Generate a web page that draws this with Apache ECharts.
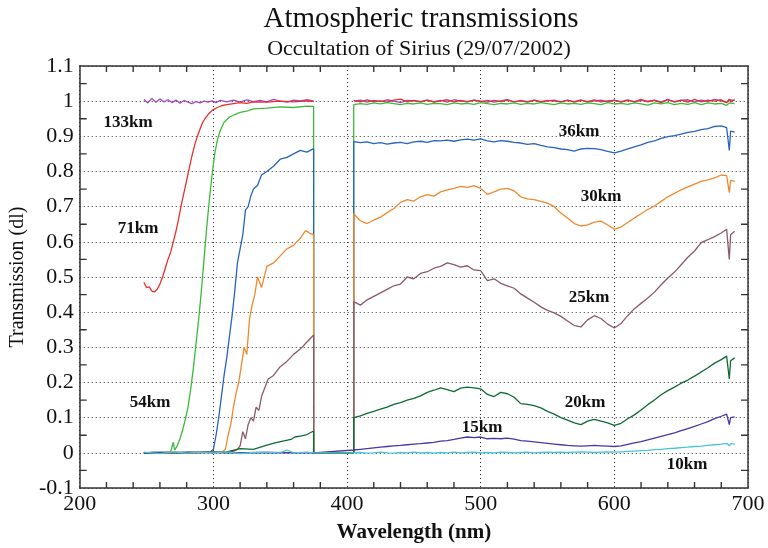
<!DOCTYPE html>
<html><head><meta charset="utf-8">
<script src="https://cdn.jsdelivr.net/npm/echarts@6/dist/echarts.min.js"></script>
<style>html,body{margin:0;padding:0;background:#fff}#c{width:768px;height:548px}</style>
</head><body><div id="c"></div>
<script>
// ---- data (wavelength nm, transmission) ----
const WL_R = [405,410,415,420,425,430,435,440,445,450,455,460,465,470,475,480,485,490,495,500,
  505,510,515,520,525,530,535,540,545,550,555,560,565,570,575,580,585,590,595,600,
  605,610,615,620,625,630,635,640,645,650,655,660,665,670,675,680,684,686,687,690];

const wl133L = [248,251,254,257,260,263,266,269,272,275,278,281,284,287,290,293,296,299,302,305,310,315,320,325,330,335,340,345,350,355,360,365,370,375];
const tr133L = [1.005,0.995,1.008,0.997,1.006,0.998,1.004,0.996,1.003,0.994,1.002,0.997,0.993,0.999,0.995,1.0,0.997,1.001,0.996,1.002,0.998,1.003,0.997,1.004,0.999,1.002,0.998,1.005,1.0,0.997,1.003,1.001,1.004,1.0];
const tr133R = [1.0,1.003,0.997,1.002,0.999,1.004,1.0,0.996,1.002,1.001,0.998,1.003,0.999,1.002,0.997,1.004,1.0,0.998,1.003,0.999,
  1.002,0.997,1.001,1.004,0.998,1.002,0.999,1.003,0.997,1.001,1.003,0.998,1.002,0.999,1.004,0.997,1.001,1.003,0.998,1.002,
  0.999,1.004,0.997,1.002,1.0,1.003,0.998,1.005,0.997,1.002,1.004,0.998,1.003,0.999,1.005,1.001,0.996,1.004,0.999,1.002];

const wl71L = [248,250,252,254,256,258,260,262,264,266,268,270,272,274,276,278,280,282,284,286,288,290,292,294,296,298,300,303,306,310,315,320,325,330,340,350,360,370,375];
const tr71L = [0.485,0.47,0.472,0.46,0.458,0.465,0.48,0.5,0.525,0.55,0.57,0.6,0.63,0.665,0.705,0.74,0.775,0.81,0.845,0.875,0.9,0.92,0.94,0.952,0.962,0.97,0.976,0.982,0.987,0.99,0.993,0.996,0.994,0.998,0.997,1.0,0.998,1.001,0.999];
const tr71R = [1.002,0.998,1.004,0.999,1.001,0.997,1.003,1.006,0.998,1.002,0.999,1.003,0.997,1.001,1.004,0.998,1.002,0.999,1.003,1.0,
  0.997,1.002,0.999,1.004,0.998,1.001,0.997,1.003,0.999,1.002,1.0,0.998,1.003,0.997,1.002,0.999,1.004,0.998,1.001,1.003,
  0.997,1.002,0.999,1.005,0.998,1.002,0.996,1.004,0.999,1.003,0.997,1.005,0.998,1.003,1.0,1.004,0.996,1.006,0.998,1.004];

const wl54L = [248,255,262,268,270,271,273,275,277,279,281,283,285,287,289,291,293,295,297,299,301,303,305,308,312,316,320,325,330,340,350,360,370,375];
const tr54L = [0.0,0.002,0.0,0.003,0.03,0.008,0.02,0.04,0.065,0.095,0.13,0.18,0.24,0.31,0.38,0.46,0.55,0.64,0.72,0.79,0.85,0.89,0.915,0.94,0.955,0.962,0.968,0.972,0.978,0.98,0.984,0.982,0.986,0.985];
const tr54R = [0.99,0.993,0.991,0.995,0.992,0.996,0.993,0.99,0.994,0.992,0.995,0.991,0.994,0.993,0.99,0.995,0.992,0.994,0.991,0.996,
  0.993,0.99,0.994,0.992,0.995,0.991,0.994,0.992,0.996,0.993,0.99,0.995,0.992,0.994,0.991,0.995,0.993,0.99,0.996,0.992,
  0.994,0.991,0.995,0.992,0.989,0.995,0.992,0.996,0.99,0.994,0.991,0.996,0.99,0.995,0.992,0.994,0.988,0.995,0.99,0.993];

const wl36L = [248,260,275,290,298,300,302,304,306,308,310,312,314,316,318,320,322,324,326,328,330,333,336,340,345,350,355,360,365,370,375];
const tr36L = [0.0,0.002,0.0,0.001,0.003,0.01,0.05,0.1,0.16,0.22,0.27,0.33,0.39,0.46,0.54,0.58,0.62,0.69,0.7,0.73,0.75,0.76,0.79,0.8,0.815,0.835,0.84,0.85,0.86,0.855,0.865];
const tr36R = [0.885,0.882,0.884,0.879,0.882,0.878,0.881,0.883,0.879,0.884,0.886,0.883,0.888,0.887,0.889,0.886,0.89,0.892,0.889,0.893,
  0.887,0.884,0.888,0.886,0.883,0.881,0.877,0.879,0.874,0.87,0.868,0.864,0.862,0.858,0.864,0.866,0.865,0.862,0.857,0.853,
  0.858,0.864,0.87,0.876,0.883,0.887,0.894,0.899,0.902,0.906,0.911,0.914,0.919,0.922,0.928,0.93,0.925,0.86,0.915,0.912];

const wl30L = [248,265,285,300,306,309,311,313,315,317,319,321,323,325,327,329,331,333,336,340,345,350,355,360,365,369,372,375];
const tr30L = [0.0,0.001,0.0,0.002,0.001,0.01,0.05,0.08,0.13,0.17,0.2,0.25,0.3,0.28,0.38,0.42,0.45,0.5,0.47,0.53,0.54,0.56,0.58,0.59,0.61,0.632,0.625,0.62];
const tr30R = [0.68,0.66,0.652,0.662,0.67,0.683,0.695,0.712,0.72,0.716,0.728,0.734,0.73,0.742,0.748,0.752,0.758,0.755,0.76,0.752,
  0.735,0.742,0.75,0.752,0.745,0.728,0.722,0.72,0.715,0.71,0.7,0.682,0.668,0.652,0.645,0.648,0.656,0.659,0.648,0.636,
  0.642,0.655,0.668,0.68,0.692,0.702,0.715,0.728,0.738,0.748,0.756,0.764,0.772,0.776,0.782,0.79,0.788,0.74,0.775,0.772];

const wl25L = [248,270,295,310,315,318,320,322,324,326,328,330,332,334,336,338,341,345,350,355,360,365,370,375];
const tr25L = [0.0,0.0,0.001,0.002,0.004,0.01,0.02,0.06,0.04,0.08,0.1,0.09,0.13,0.12,0.16,0.18,0.21,0.22,0.245,0.26,0.28,0.295,0.315,0.335];
const tr25R = [0.43,0.42,0.435,0.445,0.455,0.465,0.475,0.48,0.5,0.495,0.51,0.515,0.525,0.53,0.54,0.535,0.528,0.532,0.52,0.518,
  0.49,0.495,0.482,0.475,0.468,0.452,0.44,0.428,0.415,0.405,0.398,0.388,0.375,0.362,0.358,0.378,0.39,0.382,0.366,0.355,
  0.368,0.39,0.41,0.425,0.44,0.457,0.478,0.497,0.514,0.535,0.556,0.574,0.598,0.606,0.615,0.625,0.636,0.55,0.62,0.63];

const wl20L = [248,280,310,320,330,340,346,352,358,361,366,370,375];
const tr20L = [0.0,0.001,0.003,0.012,0.01,0.022,0.028,0.033,0.038,0.045,0.048,0.052,0.062];
const tr20R = [0.1,0.105,0.112,0.118,0.124,0.13,0.138,0.143,0.15,0.155,0.162,0.172,0.178,0.185,0.18,0.174,0.184,0.187,0.185,0.182,
  0.166,0.16,0.172,0.168,0.158,0.14,0.138,0.134,0.128,0.118,0.11,0.1,0.093,0.085,0.08,0.09,0.095,0.09,0.085,0.078,
  0.084,0.097,0.108,0.122,0.137,0.15,0.165,0.177,0.187,0.198,0.207,0.218,0.23,0.242,0.255,0.265,0.275,0.21,0.262,0.27];

const wl15L = [248,280,310,340,375];
const tr15L = [0.0,0.002,0.0,0.001,0.0];
const tr15R = [0.008,0.01,0.012,0.014,0.016,0.018,0.02,0.021,0.023,0.025,0.026,0.028,0.03,0.033,0.035,0.038,0.042,0.045,0.043,0.045,
  0.04,0.041,0.04,0.042,0.039,0.035,0.033,0.031,0.029,0.027,0.025,0.023,0.021,0.02,0.019,0.02,0.021,0.02,0.019,0.018,
  0.02,0.024,0.028,0.032,0.037,0.042,0.047,0.052,0.057,0.063,0.069,0.075,0.082,0.089,0.097,0.104,0.11,0.08,0.1,0.102];

const wl10L = [248,260,270,280,290,300,310,320,330,340,350,355,360,370,375];
const tr10L = [0.002,-0.002,0.003,-0.001,0.002,0.0,0.003,-0.002,0.001,0.002,0.0,0.008,0.0,0.002,0.0];
const tr10R = [0.0,0.001,-0.001,0.0,0.002,0.0,-0.001,0.001,0.0,0.002,0.0,0.001,-0.001,0.001,0.0,0.002,0.0,0.001,0.002,0.0,
  0.001,0.0,0.002,0.001,0.0,0.001,0.002,0.0,0.001,0.002,0.001,0.002,0.001,0.002,0.003,0.002,0.001,0.002,0.003,0.002,
  0.003,0.004,0.005,0.006,0.007,0.009,0.01,0.012,0.013,0.015,0.016,0.018,0.019,0.021,0.023,0.025,0.027,0.02,0.026,0.025];

const seriesNames = ['133km','71km','54km','36km','30km','25km','20km','15km','10km'];
// minor tick positions (between the dotted grid lines)
const X_MINOR_TICKS = [220,240,260,280,320,340,360,380,420,440,460,480,520,540,560,580,620,640,660,680];
const Y_MINOR_TICKS = [-0.05,0.05,0.15,0.25,0.35,0.45,0.55,0.65,0.75,0.85,0.95,1.05];

function build(wlL, trL, join, trR) {
  const d = wlL.map((w, i) => [w, trL[i]]);
  if (join === 'break') d.push([390, '-']);
  else if (join === 'drop') { d.push([375, 0]); d.push([405, 0]); }
  WL_R.forEach((w, i) => d.push([w, trR[i]]));
  return d;
}

const defs = [
  [wl133L, tr133L, 'break', tr133R, '#a546c0'],
  [wl71L, tr71L, 'break', tr71R, '#e8302c'],
  [wl54L, tr54L, 'drop', tr54R, '#3dba3a'],
  [wl36L, tr36L, 'drop', tr36R, '#2863bf'],
  [wl30L, tr30L, 'drop', tr30R, '#f0892e'],
  [wl25L, tr25L, 'drop', tr25R, '#8c5a68'],
  [wl20L, tr20L, 'drop', tr20R, '#0f6b33'],
  [wl15L, tr15L, 'flat', tr15R, '#4a36a6'],
  [wl10L, tr10L, 'flat', tr10R, '#46c6d6']
];

const SERIF = '"Liberation Serif","DejaVu Serif",serif';
const axisCol = '#333';
const X_MIN = 200, X_MAX = 700, Y_MIN = -0.1, Y_MAX = 1.1;
// tick lengths expressed in axis units (about 6-7 px)
const TICK_DY = 0.017, TICK_DX = 5.2;

function xAxisDef(pos, main) {
  return {
    type: 'value', min: X_MIN, max: X_MAX, interval: 100, position: pos,
    axisLine: {show: true, onZero: false, lineStyle: {color: axisCol, width: 1.5}},
    axisTick: {show: false},
    axisLabel: {show: main, fontFamily: SERIF, fontSize: 22, color: '#111', margin: 5},
    splitLine: {show: main, lineStyle: {type: [1, 3], color: '#333', width: 1}},
    name: main ? 'Wavelength (nm)' : '', nameLocation: 'middle', nameGap: 34,
    nameTextStyle: {fontFamily: SERIF, fontSize: 21, fontWeight: 'bold', color: '#111'}
  };
}
function yAxisDef(pos, main) {
  return {
    type: 'value', min: Y_MIN, max: Y_MAX, interval: 0.1, position: pos,
    axisLine: {show: true, onZero: false, lineStyle: {color: axisCol, width: 1.5}},
    axisTick: {show: false},
    axisLabel: {show: main, fontFamily: SERIF, fontSize: 22, color: '#111', margin: 6,
      formatter: v => String(Math.round(v * 10) / 10)},
    splitLine: {show: main, lineStyle: {type: [1, 3], color: '#333', width: 1}},
    name: main ? 'Transmission (dl)' : '', nameLocation: 'middle', nameGap: 44,
    nameTextStyle: {fontFamily: SERIF, fontSize: 20, color: '#111'}
  };
}

// tick marks as short line segments (broken with '-')
const tickData = [];
X_MINOR_TICKS.forEach(v => {
  tickData.push([v, Y_MIN], [v, Y_MIN + TICK_DY], [v, '-']);
  tickData.push([v, Y_MAX], [v, Y_MAX - TICK_DY], [v, '-']);
});
Y_MINOR_TICKS.forEach(v => {
  tickData.push([X_MIN, v], [X_MIN + TICK_DX, v], [X_MIN + TICK_DX, '-']);
  tickData.push([X_MAX, v], [X_MAX - TICK_DX, v], [X_MAX - TICK_DX, '-']);
});

const labels = [
  ['133km', 128, 123], ['71km', 138, 229], ['54km', 150, 403], ['36km', 579, 132],
  ['30km', 601, 197], ['25km', 589, 298], ['20km', 585, 403], ['15km', 482, 428], ['10km', 687, 465]
];

const chart = echarts.init(document.getElementById('c'), null, {renderer: 'canvas'});
chart.setOption({
  animation: false,
  backgroundColor: '#fff',
  title: [
    {text: 'Atmospheric transmissions', left: 416, top: 0, textAlign: 'center',
      textStyle: {fontFamily: SERIF, fontSize: 29, fontWeight: 'normal', color: '#111'}},
    {text: 'Occultation of Sirius (29/07/2002)', left: 414, top: 33, textAlign: 'center',
      textStyle: {fontFamily: SERIF, fontSize: 22, fontWeight: 'normal', color: '#111'}}
  ],
  grid: {left: 72, right: 20, top: 66, bottom: 58},
  xAxis: [xAxisDef('bottom', true), xAxisDef('top', false)],
  yAxis: [yAxisDef('left', true), yAxisDef('right', false)],
  series: defs.map((d, i) => ({
    name: seriesNames[i], type: 'line', xAxisIndex: 0, yAxisIndex: 0,
    data: build(d[0], d[1], d[2], d[3]), showSymbol: false, symbol: 'none',
    connectNulls: false, lineStyle: {color: d[4], width: 1.3}, itemStyle: {color: d[4]}
  })).concat([{
    name: 'ticks', type: 'line', xAxisIndex: 0, yAxisIndex: 0, data: tickData,
    showSymbol: false, symbol: 'none', connectNulls: false, silent: true, z: 10,
    lineStyle: {color: axisCol, width: 1.4}, itemStyle: {color: axisCol}
  }]),
  graphic: labels.map(l => ({
    type: 'text', x: l[1], y: l[2], z: 100,
    style: {text: l[0], fill: '#111', font: 'bold 17px ' + SERIF, textAlign: 'center', textVerticalAlign: 'middle'}
  }))
});
</script></body></html>
